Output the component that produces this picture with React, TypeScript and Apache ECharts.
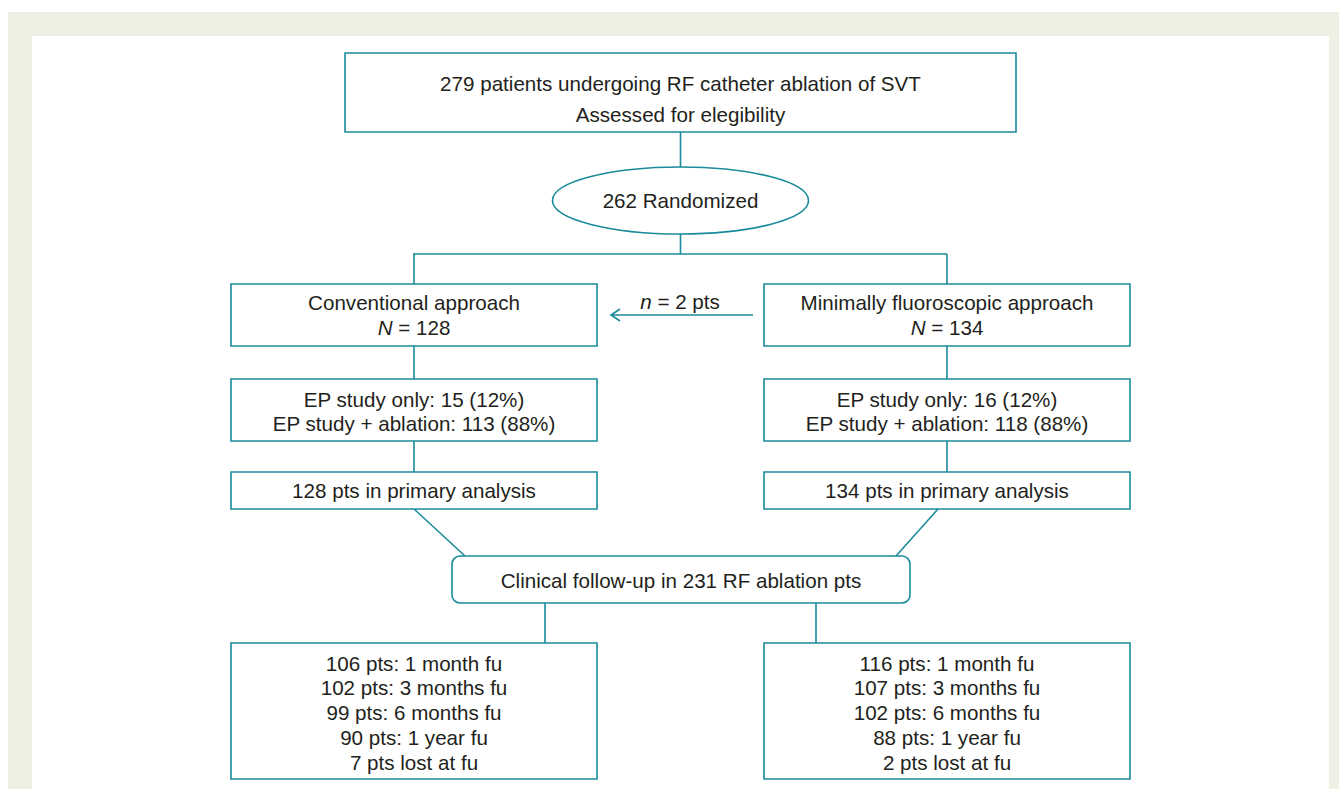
import React, { useEffect, useRef } from "react";
import * as echarts from "echarts";

// ---- data ----
const topBoxLines = ["279 patients undergoing RF catheter ablation of SVT", "Assessed for elegibility"];
const randomizedCount = 262;
const groupNames = ["Conventional approach", "Minimally fluoroscopic approach"];
const groupN = [128, 134];
const crossoverN = 2;
const epOnly = [15, 16];
const epOnlyPct = [12, 12];
const epAblation = [113, 118];
const epAblationPct = [88, 88];
const primaryAnalysis = [128, 134];
const followUpTotal = 231;
const fuLabels = ["1 month fu", "3 months fu", "6 months fu", "1 year fu"];
const fuCounts = [
  [106, 102, 99, 90],
  [116, 107, 102, 88],
];
const lostAtFu = [7, 2];

const TEAL = "#1a8b9b";
const INK = "#231f20";
const FONT = "'Liberation Sans', Arial, Helvetica, sans-serif";
const FS = 20.6;

function txt(x: number, y: number, text: string, rich?: any): any {
  return {
    type: "text",
    x,
    y,
    style: {
      text,
      fill: INK,
      fontSize: FS,
      fontFamily: FONT,
      align: "center",
      verticalAlign: "middle",
      rich,
    },
    z: 10,
  };
}
function box(x: number, y: number, w: number, h: number, r = 0): any {
  return {
    type: "rect",
    shape: { x, y, width: w, height: h, r },
    style: { fill: "#fff", stroke: TEAL, lineWidth: 1.6 },
    z: 5,
  };
}
function ln(x1: number, y1: number, x2: number, y2: number): any {
  return {
    type: "line",
    shape: { x1, y1, x2, y2 },
    style: { stroke: TEAL, lineWidth: 1.6 },
    z: 4,
  };
}

export default function App() {
  const ref = useRef<HTMLDivElement>(null);
  useEffect(() => {
    if (!ref.current) return;
    const chart = echarts.init(ref.current, undefined, { renderer: "svg" });
    const italic = { i: { fontStyle: "italic", fontSize: FS, fontFamily: FONT, fill: INK } };
    const cols = [414, 947];
    const els: any[] = [];
    // background panel
    els.push({ type: "rect", shape: { x: 8, y: 12, width: 1340, height: 790 }, style: { fill: "#efefe4" }, z: 0 });
    els.push({ type: "rect", shape: { x: 32, y: 36, width: 1297, height: 770 }, style: { fill: "#ffffff" }, z: 1 });

    // top box
    els.push(box(345, 53, 671, 79));
    els.push(txt(680.5, 83, topBoxLines[0]));
    els.push(txt(680.5, 114, topBoxLines[1]));
    els.push(ln(680.5, 132, 680.5, 167));
    // ellipse
    els.push({
      type: "ellipse",
      shape: { cx: 680.5, cy: 200.5, rx: 128, ry: 33.5 },
      style: { fill: "#fff", stroke: TEAL, lineWidth: 1.6 },
      z: 5,
    });
    els.push(txt(680.5, 200, `${randomizedCount} Randomized`));
    els.push(ln(680.5, 234, 680.5, 254));
    els.push(ln(413, 254, 947, 254));

    // crossover arrow
    els.push(ln(753, 315, 611, 315));
    els.push({
      type: "polyline",
      shape: { points: [[620, 309], [611, 315], [620, 321]] },
      style: { stroke: TEAL, lineWidth: 1.6, fill: null },
      z: 4,
    });
    els.push(txt(680, 301, `{i|n} = ${crossoverN} pts`, italic));

    cols.forEach((cx, g) => {
      const left = cx - 183;
      els.push(ln(cx, 254, cx, 284));
      els.push(box(left, 284, 366, 62));
      els.push(txt(cx, 302, groupNames[g]));
      els.push(txt(cx, 327, `{i|N} = ${groupN[g]}`, italic));
      els.push(ln(cx, 346, cx, 379));
      els.push(box(left, 379, 366, 62));
      els.push(txt(cx, 399, `EP study only: ${epOnly[g]} (${epOnlyPct[g]}%)`));
      els.push(txt(cx, 423, `EP study + ablation: ${epAblation[g]} (${epAblationPct[g]}%)`));
      els.push(ln(cx, 441, cx, 472));
      els.push(box(left, 472, 366, 37));
      els.push(txt(cx, 490, `${primaryAnalysis[g]} pts in primary analysis`));
      // bottom box
      els.push(box(left, 643, 366, 136));
      const lines = fuCounts[g].map((c, i) => `${c} pts: ${fuLabels[i]}`);
      lines.push(`${lostAtFu[g]} pts lost at fu`);
      lines.forEach((l, i) => els.push(txt(cx, 663 + i * 24.75, l)));
    });

    // diagonals to follow-up box
    els.push(ln(414, 509, 465, 556));
    els.push(ln(938, 509, 896, 556));
    els.push(box(452, 556, 458, 47, 8));
    els.push(txt(681, 580, `Clinical follow-up in ${followUpTotal} RF ablation pts`));
    els.push(ln(545, 603, 545, 643));
    els.push(ln(816, 603, 816, 643));

    chart.setOption({
      animation: false,
      graphic: { elements: els },
    });
    return () => chart.dispose();
  }, []);
  return (
    <div
      ref={ref}
      style={{ position: "fixed", left: 0, top: 0, width: 1339, height: 789, background: "#fff" }}
    />
  );
}
